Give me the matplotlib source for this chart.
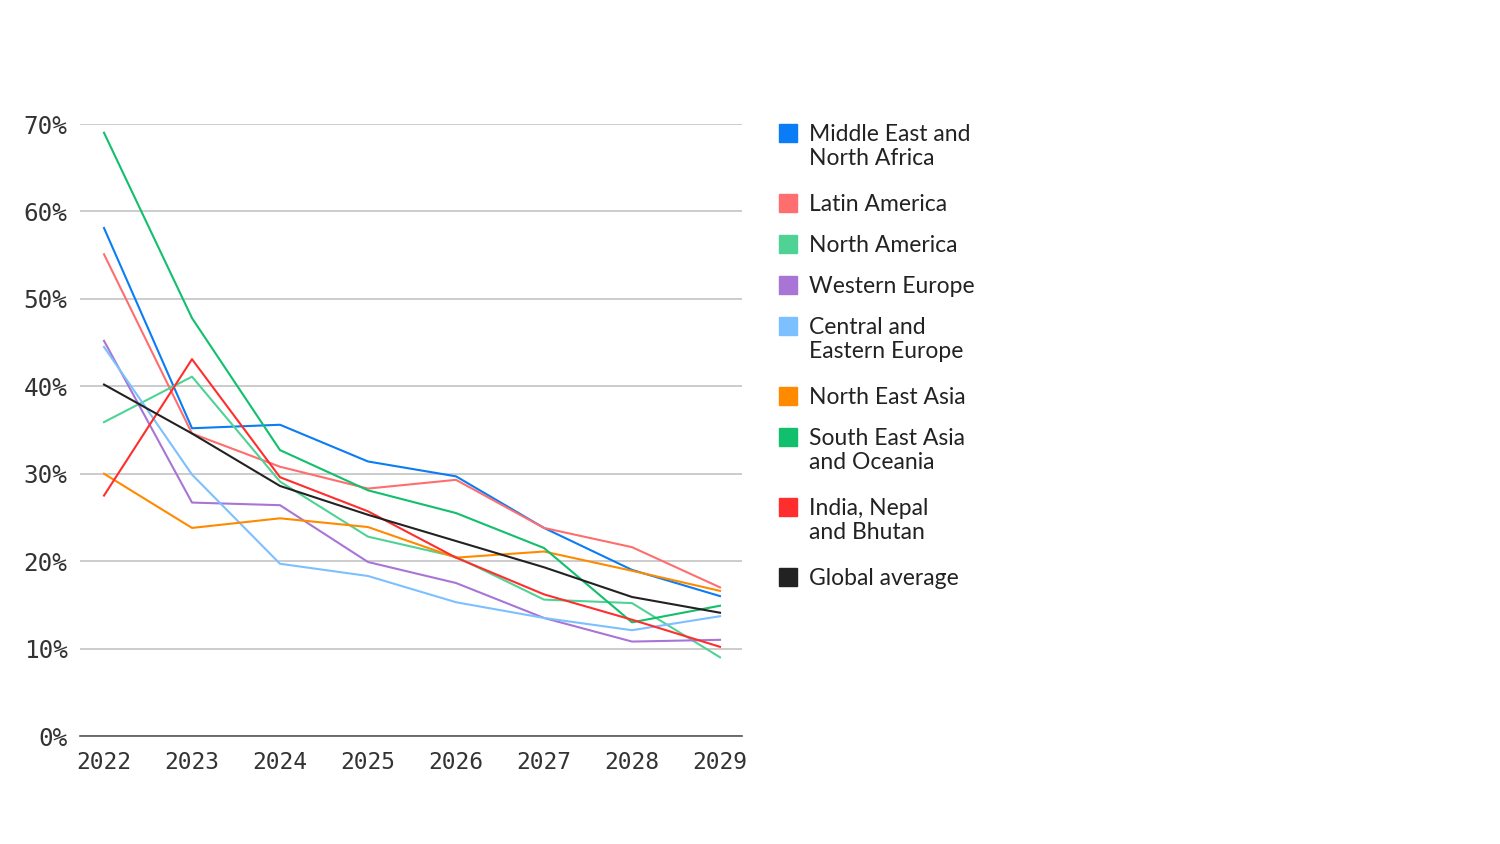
import matplotlib
matplotlib.use("Agg")
import matplotlib.pyplot as plt

years = [2022, 2023, 2024, 2025, 2026, 2027, 2028, 2029]

regions = [
    "Middle East and\nNorth Africa",
    "Latin America",
    "North America",
    "Western Europe",
    "Central and\nEastern Europe",
    "North East Asia",
    "South East Asia\nand Oceania",
    "India, Nepal\nand Bhutan",
    "Global average",
]

mena = [58.1, 35.2, 35.6, 31.4, 29.7, 23.8, 19.0, 16.0]
latin_america = [55.1, 34.6, 30.8, 28.3, 29.3, 23.8, 21.6, 17.0]
north_america = [35.9, 41.1, 29.1, 22.8, 20.5, 15.6, 15.2, 9.0]
western_europe = [45.2, 26.7, 26.4, 19.9, 17.5, 13.5, 10.8, 11.0]
cee = [44.5, 29.9, 19.7, 18.3, 15.3, 13.5, 12.1, 13.7]
north_east_asia = [30.0, 23.8, 24.9, 23.9, 20.4, 21.1, 18.9, 16.6]
sea_oceania = [69.0, 47.8, 32.7, 28.1, 25.5, 21.5, 13.0, 14.9]
india = [27.5, 43.1, 29.6, 25.7, 20.4, 16.2, 13.3, 10.2]
global_avg = [40.2, 34.6, 28.6, 25.3, 22.3, 19.3, 15.9, 14.1]

series = [mena, latin_america, north_america, western_europe, cee,
          north_east_asia, sea_oceania, india, global_avg]
colors = ["#0a7cf5", "#ff6e6e", "#4fd394", "#a875d6", "#7cc0ff",
          "#ff8a00", "#12bf6c", "#ff2e2e", "#222222"]

y_ticks = [0, 10, 20, 30, 40, 50, 60, 70]

W, H = 1500, 844
fig = plt.figure(figsize=(15, 8.44), dpi=100)
ax = fig.add_axes([80 / W, 1 - 736 / H, (742 - 80) / W, (736 - 124) / H])

# draw back to front so black ends up on top
for vals, col in zip(series, colors):
    ax.plot(years, vals, color=col, lw=1.5, clip_on=False, zorder=3)

ax.set_xlim(2022 - 24 / 88, 2029 + 22 / 88)
ax.set_ylim(0, 70)
ax.set_xticks(years)
ax.set_xticklabels([str(y) for y in years])
ax.set_yticks(y_ticks)
ax.set_yticklabels([f"{t}%" for t in y_ticks])
ax.tick_params(length=0, labelsize=17.5, colors="#333333")
ax.tick_params(axis="x", pad=11, labelsize=16.5)
ax.tick_params(axis="y", pad=9)
for lab in ax.get_xticklabels() + ax.get_yticklabels():
    lab.set_family("DejaVu Sans Mono")
for lab in ax.get_xticklabels():
    lab.set_x(lab.get_position()[0])

ax.grid(axis="y", color="#c4c4c4", lw=1.2)
ax.set_axisbelow(True)
for s in ["top", "right", "left"]:
    ax.spines[s].set_visible(False)
ax.spines["bottom"].set_color("#555555")
ax.spines["bottom"].set_linewidth(1.2)

# hand-placed legend on the right
y = 133
for lab, col in zip(regions, colors):
    fig.patches.append(plt.Rectangle((779 / W, 1 - (y + 9) / H), 18 / W, 18 / H,
                                     transform=fig.transFigure, color=col,
                                     figure=fig))
    fig.text(809 / W, 1 - (y - 9) / H, lab, fontsize=16.5, family="Lato",
             color="#222222", va="top", ha="left", linespacing=1.15)
    n = lab.count("\n") + 1
    y += 41 + (n - 1) * 29

fig.savefig("out.png", dpi=100)
